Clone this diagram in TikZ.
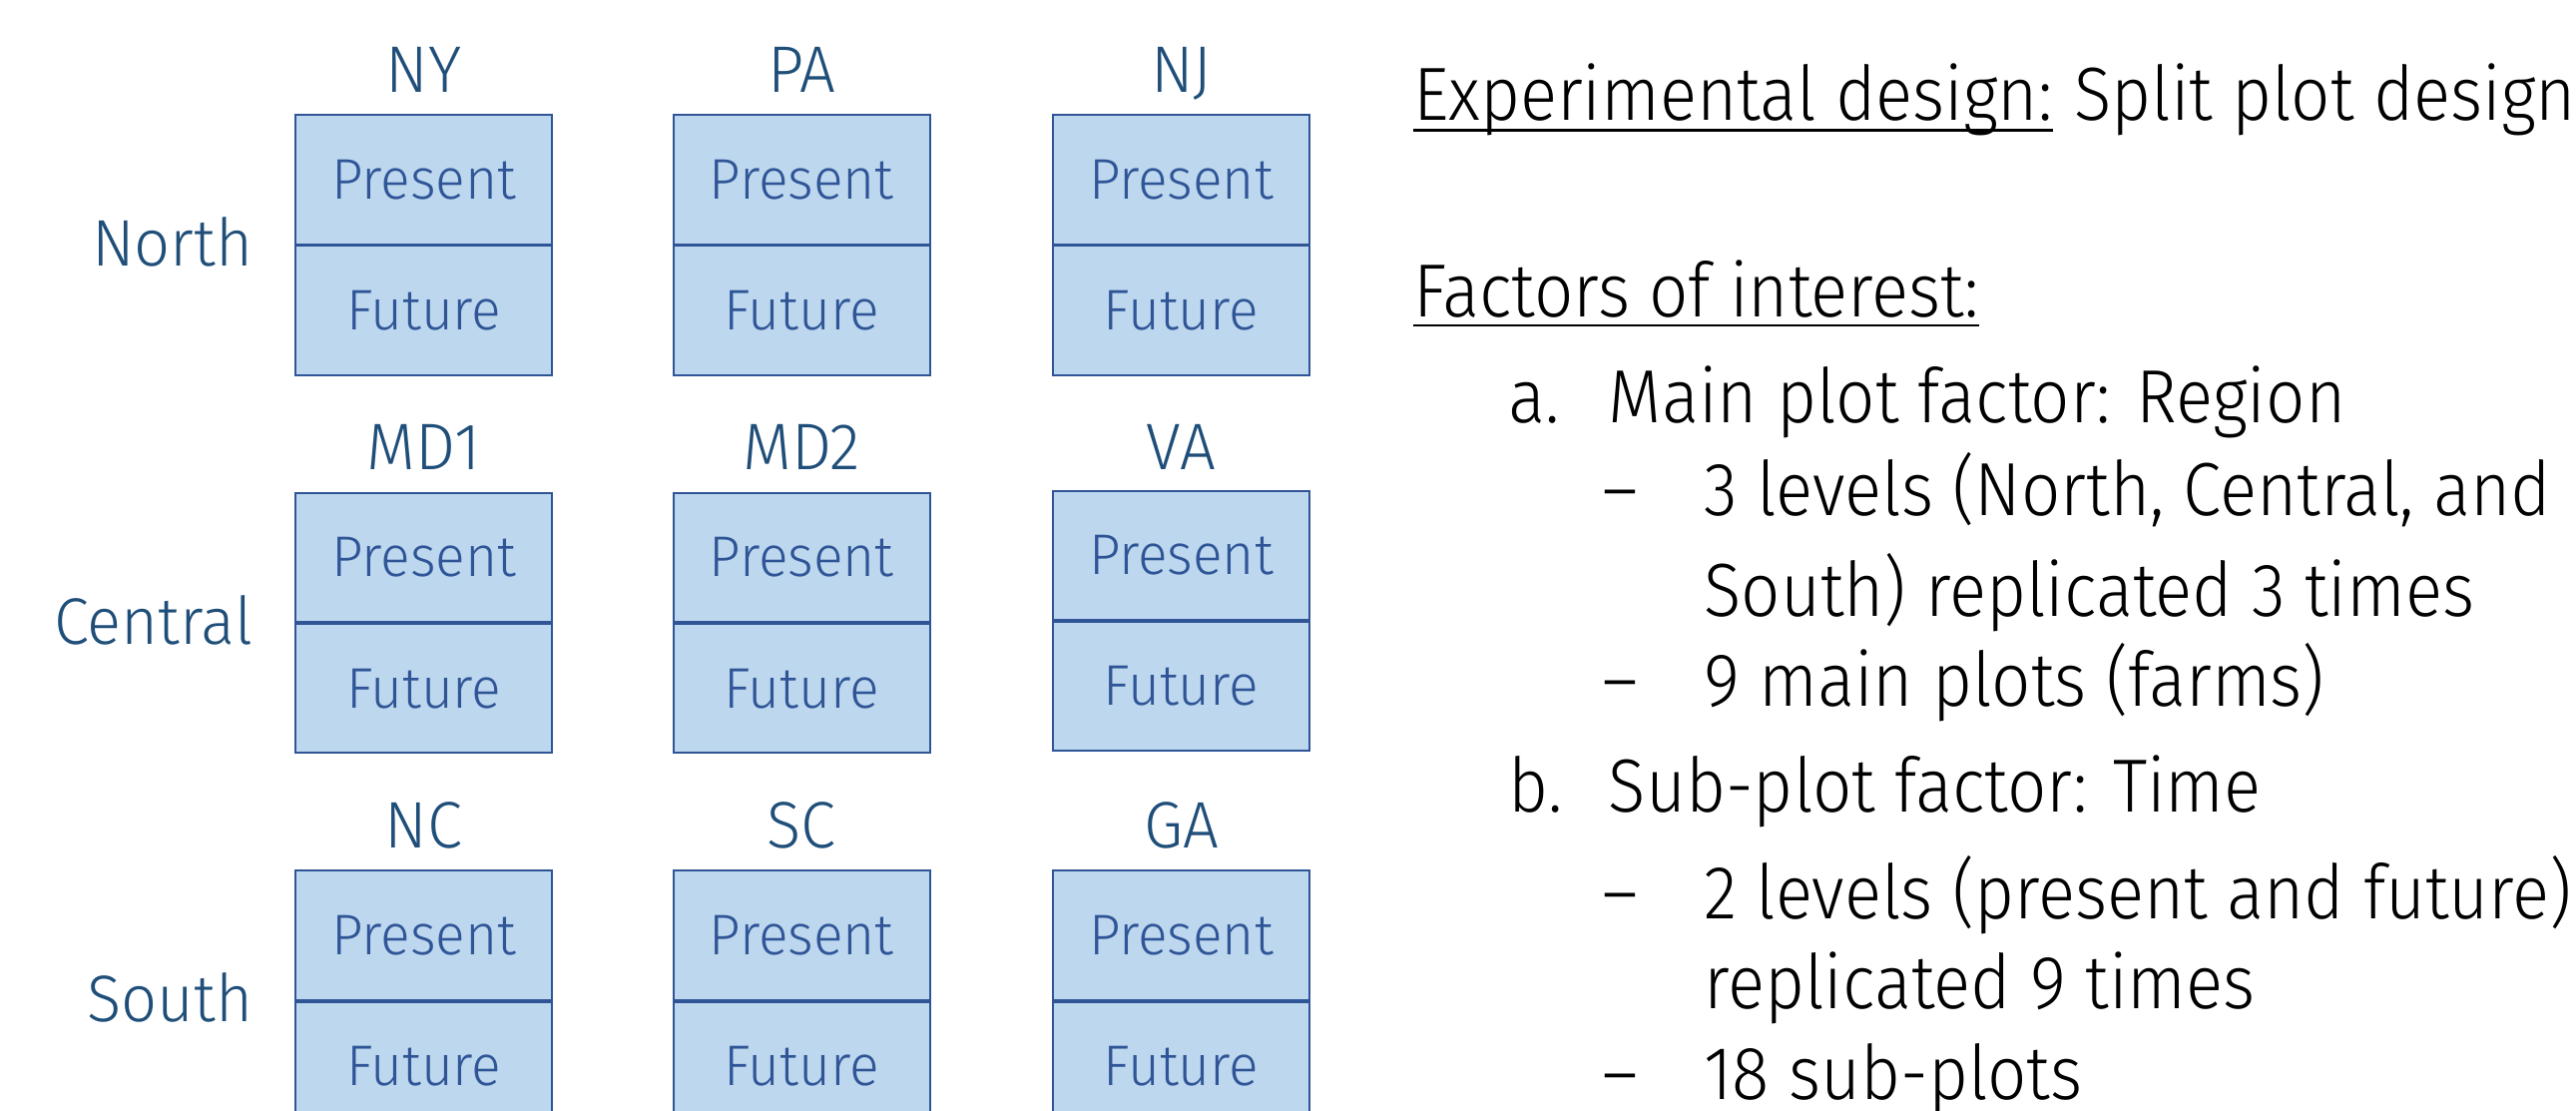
\documentclass[tikz,border=0pt]{standalone}
\usepackage{fontspec}
\setmainfont{Fira Sans Light}[FakeStretch=0.96]
\newfontfamily\descfont{Fira Sans Light}[FakeStretch=0.915]
\usepackage{tikz}
\definecolor{boxfill}{HTML}{BDD7EE}
\definecolor{boxline}{HTML}{2F5597}
\definecolor{lbltext}{HTML}{1F4E79}

\begin{document}
\begin{tikzpicture}[x=0.25mm, y=-0.25mm,
    half/.style={draw=boxline, fill=boxfill, line width=0.3mm, minimum width=111pt, minimum height=55.85pt, inner sep=0pt, text=boxline, font=\fontsize{24.8}{28}\selectfont},
    state/.style={anchor=base, inner sep=0pt, text=lbltext, font=\fontsize{28.5}{32}\selectfont},
    region/.style={anchor=base east, inner sep=0pt, text=lbltext, font=\fontsize{28.5}{32}\selectfont},
    txt/.style={anchor=base west, inner sep=0pt, font=\descfont\fontsize{32.6}{36}\selectfont},
    uline/.style={line width=0.45mm}]
                        \useasboundingbox (0,0) rectangle (1568,676);

                        % region labels
                        \node[region] (north) at (154,162) {North};
                        \node[region] (central) at (154,392) {Central};
                        \node[region] (south) at (154,622) {South};

                        % north row
                        \node[state] (NY) at (258,56) {NY};
                        \node[state] (PA) at (488,56) {PA};
                        \node[state] (NJ) at (719,56) {NJ};
                        \node[half] (NYp) at (258,109.3) {Present};
                        \node[half, anchor=north] (NYf) at (NYp.south) {Future};
                        \node[half] (PAp) at (488,109.3) {Present};
                        \node[half, anchor=north] (PAf) at (PAp.south) {Future};
                        \node[half] (NJp) at (719,109.3) {Present};
                        \node[half, anchor=north] (NJf) at (NJp.south) {Future};

                        % central row
                        \node[state] (MDa) at (258,286) {MD1};
                        \node[state] (MDb) at (488,286) {MD2};
                        \node[state] (VA) at (719,286) {VA};
                        \node[half] (MDap) at (258,339.3) {Present};
                        \node[half, anchor=north] (MDaf) at (MDap.south) {Future};
                        \node[half] (MDbp) at (488,339.3) {Present};
                        \node[half, anchor=north] (MDbf) at (MDbp.south) {Future};
                        \node[half] (VAp) at (719,338) {Present};
                        \node[half, anchor=north] (VAf) at (VAp.south) {Future};

                        % south row
                        \node[state] (NC) at (258,516) {NC};
                        \node[state] (SC) at (488,516) {SC};
                        \node[state] (GA) at (719,516) {GA};
                        \node[half] (NCp) at (258,569.3) {Present};
                        \node[half, anchor=north] (NCf) at (NCp.south) {Future};
                        \node[half] (SCp) at (488,569.3) {Present};
                        \node[half, anchor=north] (SCf) at (SCp.south) {Future};
                        \node[half] (GAp) at (719,569.3) {Present};
                        \node[half, anchor=north] (GAf) at (GAp.south) {Future};

                        % description
                        \node[txt] (dsgn) at (860,73) {Experimental design:};
                        \node[txt] (split) at ([xshift=9pt]dsgn.base east) {Split plot design};
                        \draw[uline] ([yshift=-4.6pt]dsgn.base west) -- ([yshift=-4.6pt]dsgn.base east);

                        \node[txt] (fact) at (860,193) {Factors of interest:};
                        \draw[uline] ([yshift=-3.6pt]fact.base west) -- ([yshift=-3.6pt]fact.base east);

                        \node[txt] (ia) at (918,257) {a.};
                        \node[txt] (main) at (979,257) {Main plot factor: Region};
                        \node[txt] (da) at (975,313.6) {–};
                        \node[txt] (lva) at (1037,313.6) {3 levels (North, Central, and};
                        \node[txt] (lvb) at (1037,375) {South) replicated 3 times};
                        \node[txt] (db) at (975,430) {–};
                        \node[txt] (mp) at (1037,430) {9 main plots (farms)};

                        \node[txt] (ib) at (918,494.5) {b.};
                        \node[txt] (sub) at (979,494.5) {Sub-plot factor: Time};
                        \node[txt] (dc) at (975,559) {–};
                        \node[txt] (lvc) at (1037,559) {2 levels (present and future)};
                        \node[txt] (lvd) at (1037,614) {replicated 9 times};
                        \node[txt] (dd) at (975,669) {–};
                        \node[txt] (sp) at (1037,669) {18 sub-plots};
                    \end{tikzpicture}
\end{document}
